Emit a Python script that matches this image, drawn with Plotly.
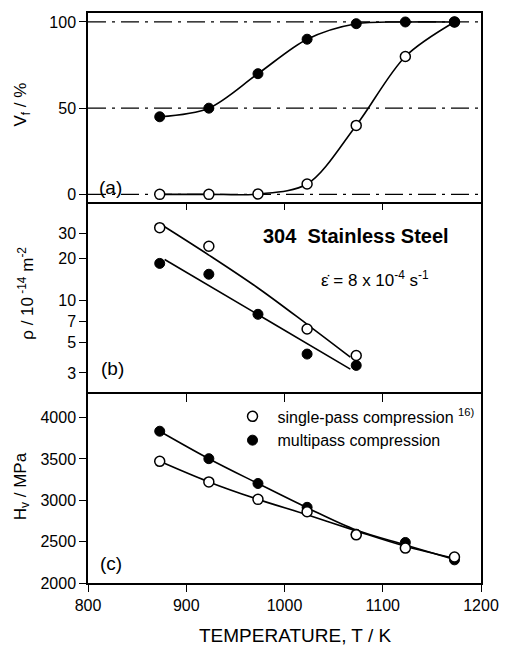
import plotly.graph_objects as go

# ---------------- data ----------------
temps = [873, 923, 973, 1023, 1073, 1123, 1173]

# (a) volume fraction Vf / %
vf_multi = [45, 50, 70, 90, 99, 100, 100]
vf_single = [0, 0, 0.2, 6, 40, 80, 100]
ref_levels = [0, 50, 100]

# (b) dislocation density rho / 1e-14 m^-2
rho_temps_single = [873, 923, 1023, 1073]
rho_single = [33, 24.3, 6.2, 4.0]
rho_temps_multi = [873, 923, 973, 1023, 1073]
rho_multi = [18.3, 15.3, 7.9, 4.1, 3.4]
fit_temps = [878, 923, 973, 1023, 1067]
fit_single = [33.5, 21.0, 12.2, 6.7, 3.9]
fit_multi_temps = [878, 1067]
fit_multi = [19.5, 3.2]

# (c) hardness Hv / MPa
hv_multi = [3835, 3503, 3203, 2915, 2590, 2490, 2280]
hv_single = [3471, 3222, 3011, 2862, 2582, 2422, 2313]
hv_fit_multi = [3835, 3503, 3203, 2910, 2640, 2460, 2285]
hv_fit_single = [3471, 3222, 3011, 2825, 2630, 2445, 2300]

x_ticks = [800, 900, 1000, 1100, 1200]
inner_ticks = [900, 1000, 1100]
vf_ticks = [0, 50, 100]
rho_ticks = [3, 5, 7, 10, 20, 30]
hv_ticks = [2000, 2500, 3000, 3500, 4000]

FONT = "Liberation Sans, Arial, sans-serif"
BLACK = "black"

fig = go.Figure()

filled = dict(symbol="circle", size=10, color=BLACK, line=dict(color=BLACK, width=1))
hollow = dict(symbol="circle", size=10, color="white", line=dict(color=BLACK, width=1.5))
LW = 1.6

# ---- panel (a)
for lv in ref_levels:
    fig.add_trace(go.Scatter(x=[x_ticks[0], x_ticks[-1]], y=[lv, lv], mode="lines",
                             line=dict(color=BLACK, width=1.2, dash="18px,6px,3px,6px"),
                             xaxis="x", yaxis="y", showlegend=False, hoverinfo="skip"))
fig.add_trace(go.Scatter(x=temps, y=vf_single, mode="lines+markers", line=dict(color=BLACK, width=LW, shape="spline", smoothing=0.9),
                         marker=hollow, xaxis="x", yaxis="y", showlegend=False))
fig.add_trace(go.Scatter(x=temps, y=vf_multi, mode="lines+markers", line=dict(color=BLACK, width=LW, shape="spline", smoothing=0.9),
                         marker=filled, xaxis="x", yaxis="y", showlegend=False))

# ---- panel (b)
fig.add_trace(go.Scatter(x=fit_temps, y=fit_single, mode="lines", line=dict(color=BLACK, width=LW, shape="spline"),
                         xaxis="x2", yaxis="y2", showlegend=False))
fig.add_trace(go.Scatter(x=fit_multi_temps, y=fit_multi, mode="lines", line=dict(color=BLACK, width=LW),
                         xaxis="x2", yaxis="y2", showlegend=False))
fig.add_trace(go.Scatter(x=rho_temps_multi, y=rho_multi, mode="markers", marker=filled,
                         xaxis="x2", yaxis="y2", showlegend=False))
fig.add_trace(go.Scatter(x=rho_temps_single, y=rho_single, mode="markers", marker=hollow,
                         xaxis="x2", yaxis="y2", showlegend=False))

# ---- panel (c)
fig.add_trace(go.Scatter(x=temps, y=hv_fit_multi, mode="lines", line=dict(color=BLACK, width=LW, shape="spline", smoothing=1),
                         xaxis="x3", yaxis="y3", showlegend=False))
fig.add_trace(go.Scatter(x=temps, y=hv_fit_single, mode="lines", line=dict(color=BLACK, width=LW, shape="spline", smoothing=1),
                         xaxis="x3", yaxis="y3", showlegend=False))
fig.add_trace(go.Scatter(x=temps, y=hv_multi, mode="markers", marker=filled,
                         xaxis="x3", yaxis="y3", showlegend=False))
fig.add_trace(go.Scatter(x=temps, y=hv_single, mode="markers", marker=hollow,
                         xaxis="x3", yaxis="y3", showlegend=False))
# legend entries
fig.add_trace(go.Scatter(x=[None], y=[None], mode="markers", marker=hollow,
                         name="single-pass compression <sup>16)</sup>", xaxis="x3", yaxis="y3"))
fig.add_trace(go.Scatter(x=[None], y=[None], mode="markers", marker=filled,
                         name="multipass compression", xaxis="x3", yaxis="y3"))
# dummy for top tick axis of panel c
fig.add_trace(go.Scatter(x=[None], y=[None], mode="markers", xaxis="x4", yaxis="y3",
                         showlegend=False, hoverinfo="skip"))

H_PLOT = 572.0
dom_c = [0, 190 / H_PLOT]
dom_b = [190 / H_PLOT, 382 / H_PLOT]
dom_a = [382 / H_PLOT, 1]

tickfont = dict(family=FONT, size=16, color=BLACK)
xcommon = dict(range=[800, 1200], showgrid=False, zeroline=False, linecolor=BLACK, linewidth=1.5)
ycommon = dict(showgrid=False, zeroline=False, showline=True, linecolor=BLACK, linewidth=1.5,
               mirror=True, ticks="outside", ticklen=7, tickwidth=1.2, tickcolor=BLACK,
               tickfont=tickfont)

fig.update_layout(
    width=510, height=645,
    margin=dict(l=88, r=18, t=11, b=62),
    paper_bgcolor="white", plot_bgcolor="white",
    font=dict(family=FONT, color=BLACK),
    xaxis=dict(**xcommon, showline=True, mirror=True, domain=[0, 1], anchor="y",
               showticklabels=False, ticks=""),
    yaxis=dict(**ycommon, domain=dom_a, anchor="x", range=[-4.62, 105.2], tickvals=vf_ticks),
    xaxis2=dict(**xcommon, showline=False, domain=[0, 1], anchor="y2", side="top", ticks="inside",
                ticklen=8, tickwidth=1.2, tickcolor=BLACK, tickvals=inner_ticks, showticklabels=False),
    yaxis2=dict(**ycommon, domain=dom_b, anchor="x2", type="log", range=[0.329, 1.70],
                tickvals=rho_ticks, ticktext=[str(v) for v in rho_ticks]),
    xaxis3=dict(**xcommon, showline=True, mirror=True, domain=[0, 1], anchor="y3", ticks="outside",
                ticklen=7, tickwidth=1.2, tickcolor=BLACK, tickvals=x_ticks, tickfont=tickfont),
    xaxis4=dict(range=[800, 1200], overlaying="x3", anchor="y3", side="top", showgrid=False,
                zeroline=False, showline=False, ticks="inside", ticklen=8, tickwidth=1.2,
                tickcolor=BLACK, tickvals=inner_ticks, showticklabels=False),
    yaxis3=dict(**ycommon, domain=dom_c, anchor="x3", range=[2000, 4289], tickvals=hv_ticks),
    legend=dict(x=0.355, y=0.322, xanchor="left", yanchor="top", bgcolor="rgba(0,0,0,0)",
                font=dict(family=FONT, size=16, color=BLACK), tracegroupgap=0, itemwidth=40),
    showlegend=True,
)

ann = []
def A(text, x, y, size, xanchor="left", yanchor="middle", angle=0, bold=False):
    ann.append(dict(text=(f"<b>{text}</b>" if bold else text), x=x, y=y, xref="paper", yref="paper",
                    xanchor=xanchor, yanchor=yanchor, showarrow=False, textangle=angle,
                    font=dict(family=FONT, size=size, color=BLACK)))

def px(xp):
    return (xp - 88) / 404.0

def py(yp):
    return (583 - yp) / H_PLOT

A("(a)", px(97), py(186), 19)
A("(b)", px(99), py(368), 19)
A("(c)", px(98), py(563), 19)
A("304  Stainless Steel", px(364), py(235), 20, xanchor="center", bold=True)
A("\u03b5\u0307 = 8 x 10<sup>-4</sup> s<sup>-1</sup>", px(325), py(278), 17)
A("V<sub>f</sub> / %", px(20), py(103), 17, xanchor="center", angle=-90)
A("\u03c1 / 10<sup> -14</sup> m<sup>-2</sup>", px(24), py(292), 17, xanchor="center", angle=-90)
A("H<sub>v</sub> / MPa", px(20), py(486), 17, xanchor="center", angle=-90)
A("TEMPERATURE, T / K", px(301), py(636), 19, xanchor="center")
fig.update_layout(annotations=ann)

fig.write_html("out.html")
